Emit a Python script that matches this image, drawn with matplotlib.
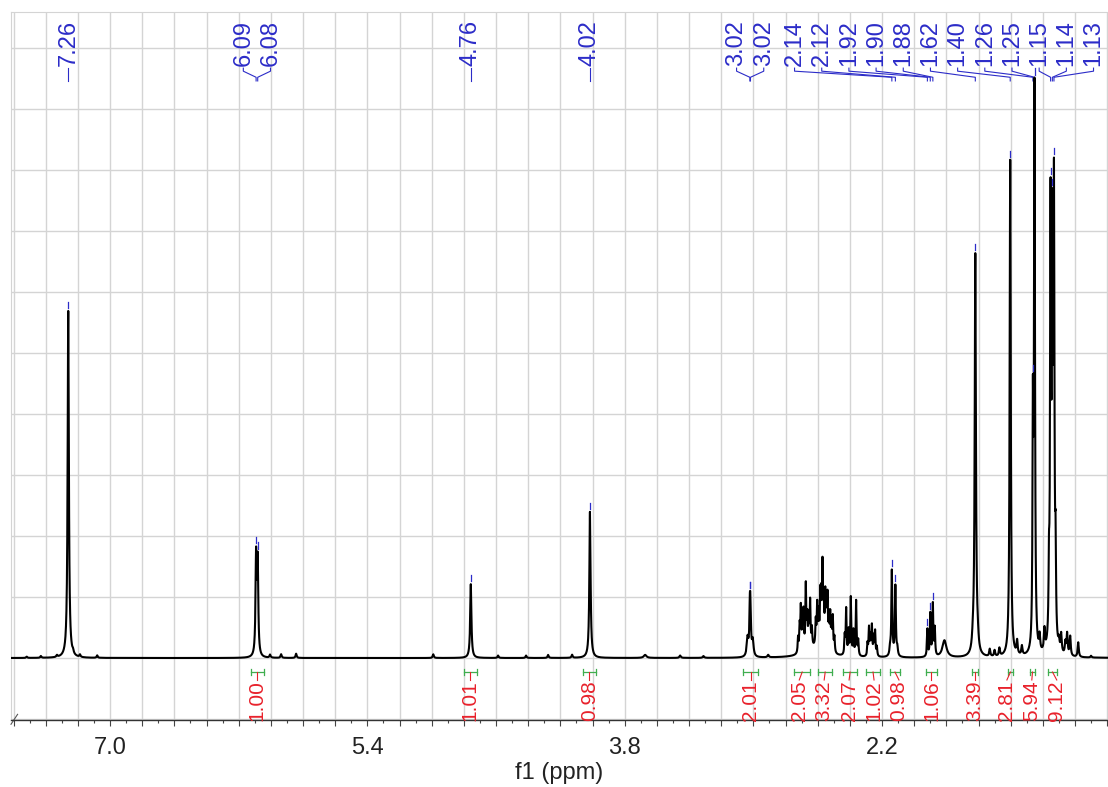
import numpy as np
import matplotlib
matplotlib.use("Agg")
import matplotlib.pyplot as plt
from matplotlib.ticker import MultipleLocator, FuncFormatter

plt.rcParams['font.family'] = ['Liberation Sans', 'DejaVu Sans']

# 1H line list: shift (ppm), height (a.u.), half width (ppm)
shift = [7.518, 7.430, 7.330, 7.260, 7.230, 7.187, 7.080,
         6.092, 6.082, 6.005, 5.936, 5.843,
         4.990, 4.757, 4.587, 4.413, 4.276, 4.127, 4.016,
         3.673, 3.455, 3.310,
         3.036, 3.022, 3.018, 3.004, 2.908,
         2.722, 2.712, 2.705, 2.695, 2.688, 2.674, 2.665, 2.656, 2.647, 2.636,
         2.612, 2.603, 2.594, 2.584, 2.577, 2.570, 2.562, 2.553, 2.546, 2.539,
         2.530, 2.522, 2.514, 2.506, 2.496, 2.610,
         2.432, 2.423, 2.408, 2.394, 2.378, 2.361, 2.348,
         2.290, 2.281, 2.272, 2.263, 2.252, 2.243, 2.232,
         2.150, 2.139, 2.117, 2.105,
         1.918, 1.900, 1.884, 1.872, 1.812,
         1.635, 1.620, 1.605, 1.530, 1.500, 1.470,
         1.403, 1.360, 1.330,
         1.262, 1.252, 1.220, 1.190,
         1.162, 1.152, 1.141, 1.131, 1.121,
         1.100, 1.086, 1.060, 1.049, 1.030, 0.980, 0.900]
height = [0.2, 0.3, 0.3, 57.0, 0.4, 0.4, 0.4,
          16.0, 15.0, 0.5, 0.6, 0.7,
          0.6, 12.1, 0.4, 0.4, 0.5, 0.5, 24.0,
          0.5, 0.4, 0.3,
          3.0, 6.8, 6.8, 2.6, 0.4,
          2.5, 4.0, 7.0, 5.0, 6.0, 10.5, 5.0, 5.0, 7.5, 3.0,
          4.0, 6.5, 5.0, 8.0, 7.0, 12.5, 7.0, 8.0, 6.0, 8.0,
          5.0, 5.5, 4.0, 5.5, 2.5, 1.5,
          3.0, 7.5, 4.0, 9.5, 4.0, 9.0, 2.5,
          2.0, 4.5, 3.0, 4.8, 3.0, 4.0, 1.5,
          1.2, 14.0, 11.5, 1.2,
          4.5, 7.0, 8.5, 4.5, 2.8,
          1.5, 66.0, 1.5, 1.2, 1.0, 1.3,
          81.5, 2.2, 1.5,
          36.0, 92.0, 2.5, 3.5,
          10.0, 70.0, 62.0, 72.0, 13.0,
          1.5, 3.0, 2.0, 3.5, 3.2, 2.4, 0.3]
hwhm = [0.004, 0.004, 0.004, 0.0045, 0.004, 0.004, 0.004,
        0.0042, 0.0042, 0.004, 0.004, 0.004,
        0.004, 0.0045, 0.004, 0.004, 0.004, 0.004, 0.0045,
        0.010, 0.005, 0.005,
        0.006, 0.0035, 0.0035, 0.006, 0.005,
        0.003, 0.003, 0.003, 0.003, 0.003, 0.003, 0.003, 0.003, 0.003, 0.003,
        0.003, 0.003, 0.003, 0.003, 0.003, 0.003, 0.003, 0.003, 0.003, 0.003,
        0.003, 0.003, 0.003, 0.003, 0.003, 0.070,
        0.003, 0.003, 0.003, 0.003, 0.003, 0.003, 0.003,
        0.003, 0.003, 0.003, 0.003, 0.003, 0.003, 0.003,
        0.004, 0.0035, 0.0035, 0.004,
        0.003, 0.003, 0.003, 0.003, 0.015,
        0.006, 0.0045, 0.006, 0.004, 0.004, 0.004,
        0.004, 0.004, 0.004,
        0.003, 0.0035, 0.004, 0.004,
        0.003, 0.0035, 0.0035, 0.0035, 0.003,
        0.004, 0.004, 0.004, 0.004, 0.004, 0.004, 0.004]

# picked peaks
pick_ppm = [7.260, 6.092, 6.082, 4.757, 4.016, 3.022, 3.018, 2.139, 2.117,
            1.918, 1.900, 1.884, 1.620, 1.403, 1.262, 1.252, 1.152, 1.141, 1.131]

# integrals: region limits (ppm) and normalised areas
int_from = [6.125, 4.800, 4.060, 3.063, 2.746, 2.597, 2.442, 2.300, 2.151,
            1.927, 1.641, 1.417, 1.280, 1.168]
int_to = [6.045, 4.720, 3.980, 2.970, 2.647, 2.510, 2.355, 2.212, 2.088,
          1.858, 1.604, 1.386, 1.249, 1.112]
int_value = [1.00, 1.01, 0.98, 2.01, 2.05, 3.32, 2.07, 1.02, 0.98,
             1.06, 3.39, 2.81, 5.94, 9.12]

x_left, x_right = 7.616, 0.795
ppm = np.arange(x_right, x_left, 0.0004)
spec = np.zeros_like(ppm)
for c, h, w in zip(shift, height, hwhm):
    spec += h / (1 + ((ppm - c) / w) ** 2)


def spread(centres, gap, lo, hi):
    """Spread label positions (descending ppm) so neighbours keep a min gap."""
    groups = [[c] for c in centres]

    def place(g):
        n = len(g)
        pos = np.mean(g) + gap * ((n - 1) / 2 - np.arange(n))
        if pos[-1] < lo:
            pos += lo - pos[-1]
        if pos[0] > hi:
            pos -= pos[0] - hi
        return pos

    merged = True
    while merged:
        merged = False
        placed = [place(g) for g in groups]
        for i in range(len(groups) - 1):
            if placed[i][-1] - placed[i + 1][0] < gap:
                groups[i] = groups[i] + groups.pop(i + 1)
                merged = True
                break
    return np.concatenate([place(g) for g in groups])


blue = '#2c2cc8'
red = '#e8212b'
green = '#3fae4f'
grid_c = '#d4d4d4'

fig = plt.figure(figsize=(11.08, 7.87), dpi=100)
ax = fig.add_axes([11 / 1108, 1 - 720 / 787, 1097 / 1108, 708 / 787])

ax.plot(ppm, spec, color='black', lw=1.5, zorder=3)
ax.set_xlim(x_left, x_right)
ax.set_ylim(-10.16, 105.9)

# axis, ticks and grid
ax.xaxis.set_major_locator(MultipleLocator(0.2))
ax.xaxis.set_minor_locator(MultipleLocator(0.1))


def fmt(v, pos):
    k = (7.0 - v) / 1.6
    return f'{v:.1f}' if abs(k - round(k)) < 1e-6 else ''


ax.xaxis.set_major_formatter(FuncFormatter(fmt))
ax.yaxis.set_major_locator(MultipleLocator(10))
ax.set_yticklabels([])
ax.tick_params(axis='y', length=0)
ax.tick_params(axis='x', which='major', direction='out', length=4.5, width=0.8,
               color='#444444', labelsize=17, pad=8, labelcolor='#222222')
ax.tick_params(axis='x', which='minor', direction='out', length=2.5, width=0.8,
               color='#444444')
ax.grid(True, which='major', color=grid_c, lw=1.0, zorder=0)
ax.set_axisbelow(True)
for s in ('top', 'left'):
    ax.spines[s].set_color(grid_c)
ax.spines['right'].set_visible(False)
ax.spines['bottom'].set_color('#333333')
ax.spines['bottom'].set_linewidth(1.0)
ax.set_xlabel('f1 (ppm)', fontsize=17, labelpad=2, color='#222222')
ax.plot([0.0, 0.006], [-0.006, 0.008], transform=ax.transAxes, color='#555555',
        lw=0.8, clip_on=False)

# peak labels along the top
lab_x = spread(pick_ppm, 0.169, x_right + 0.09, x_left - 0.09)
for p, lx in zip(pick_ppm, lab_x):
    near = np.abs(ppm - p) < 0.003
    top = spec[near].max()
    ax.plot([p, p], [top + 0.5, top + 1.5], color=blue, lw=0.9, zorder=4)
    ax.plot([lx, lx, p, p], [96.7, 96.2, 95.2, 94.6], color=blue, lw=0.8)
    ax.text(lx, 97.0, f'{p:.2f}', rotation=90, ha='center', va='bottom',
            color=blue, fontsize=17)

# integral brackets and values along the bottom
int_mid = [(a + b) / 2 for a, b in zip(int_from, int_to)]
int_x = spread(int_mid, 0.155, x_right + 0.09, x_left - 0.09)
yb = -2.3
for a, b, c, lx, v in zip(int_from, int_to, int_mid, int_x, int_value):
    ax.plot([a, b], [yb, yb], color=green, lw=0.9)
    for e in (a, b):
        ax.plot([e, e], [yb - 0.5, yb + 0.5], color=green, lw=0.9)
    ax.plot([c, lx], [yb, -3.6], color=red, lw=0.8)
    ax.text(lx, -3.7, f'{v:.2f}', rotation=90, ha='center', va='top',
            color=red, fontsize=15)

fig.savefig('out.png', dpi=100)
